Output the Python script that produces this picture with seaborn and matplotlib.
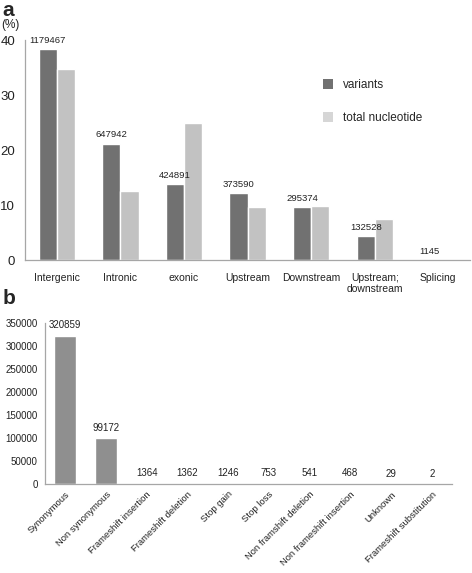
import matplotlib
matplotlib.use("Agg")
import matplotlib.pyplot as plt
import seaborn as sns
import pandas as pd
from matplotlib.patches import Patch

sns.set_theme(style="white")
plt.rcParams['font.family'] = ['Liberation Sans', 'DejaVu Sans']

# ---- data panel a ----
regions = ["Intergenic", "Intronic", "exonic", "Upstream", "Downstream",
           "Upstream;\ndownstream", "Splicing"]
variants_pct = [38.4, 21.2, 13.9, 12.2, 9.6, 4.4, 0.04]
nucleotide_pct = [34.7, 12.6, 25.0, 9.6, 9.8, 7.5, 0.1]
variant_counts = ["1179467", "647942", "424891", "373590", "295374", "132528", "1145"]
series_names = ["variants", "total nucleotide"]

# ---- data panel b ----
effects = ["Synonymous", "Non synonymous", "Frameshift insertion", "Frameshift deletion",
           "Stop gain", "Stop loss", "Non framshift deletion", "Non frameshift insertion",
           "Unknown", "Frameshift substitution"]
effect_counts = [320859, 99172, 1364, 1362, 1246, 753, 541, 468, 29, 2]
yticks_b = [0, 50000, 100000, 150000, 200000, 250000, 300000, 350000]
yticks_a = [0, 10, 20, 30, 40]

dark = "#717171"
light = "#c2c2c2"
spine_c = "#a6a6a6"

fig = plt.figure(figsize=(4.72, 5.73), dpi=100)

# ---------- panel a ----------
axa = fig.add_axes([0.053, 0.546, 0.943, 0.384])
dfa = pd.DataFrame({
    "region": regions * 2,
    "pct": variants_pct + nucleotide_pct,
    "series": [series_names[0]] * len(regions) + [series_names[1]] * len(regions),
})
sns.barplot(data=dfa, x="region", y="pct", hue="series", order=regions,
            hue_order=series_names, palette=[dark, light], width=0.57,
            saturation=1, legend=False, ax=axa)
axa.set_ylim(0, 40)
axa.set_yticks(yticks_a)
axa.set_xlabel("")
axa.set_ylabel("")
axa.tick_params(axis="y", length=0, pad=7, labelsize=9.5, colors="#222222")
axa.tick_params(axis="x", length=0, pad=9, labelsize=7.5, colors="#222222")
for s in ["top", "right"]:
    axa.spines[s].set_visible(False)
for s in ["left", "bottom"]:
    axa.spines[s].set_color(spine_c)
    axa.spines[s].set_linewidth(0.9)
axa.bar_label(axa.containers[0], labels=variant_counts, padding=3, fontsize=6.8,
              color="#222222")
handles = [Patch(facecolor=dark, edgecolor="none"),
           Patch(facecolor="#d6d6d6", edgecolor="none")]
axa.legend(handles, series_names, loc="upper left", bbox_to_anchor=(0.645, 0.87),
           frameon=False, fontsize=8.5, handlelength=0.9, handleheight=0.9,
           labelspacing=1.75, handletextpad=0.8)

fig.text(0.006, 0.998, "a", fontsize=15, fontweight="bold", va="top", ha="left")
fig.text(0.002, 0.966, "(%)", fontsize=8.5, va="top", ha="left", color="#222222")

# ---------- panel b ----------
axb = fig.add_axes([0.095, 0.155, 0.863, 0.282])
dfb = pd.DataFrame({"effect": effects, "count": effect_counts})
sns.barplot(data=dfb, x="effect", y="count", order=effects, color="#8f8f8f",
            saturation=1, width=0.55, ax=axb)
axb.set_ylim(0, 350000)
axb.set_yticks(yticks_b)
axb.set_yticklabels([str(v) for v in yticks_b])
axb.set_xlabel("")
axb.set_ylabel("")
axb.tick_params(axis="y", length=0, pad=5, labelsize=7, colors="#222222")
axb.tick_params(axis="x", length=0, pad=4, labelsize=6.8, colors="#222222")
for lab in axb.get_xticklabels():
    lab.set_rotation(45)
    lab.set_ha("right")
    lab.set_rotation_mode("anchor")
for s in ["top", "right"]:
    axb.spines[s].set_visible(False)
for s in ["left", "bottom"]:
    axb.spines[s].set_color(spine_c)
    axb.spines[s].set_linewidth(0.9)
axb.bar_label(axb.containers[0], labels=[str(v) for v in effect_counts], padding=4,
              fontsize=7, color="#222222")

fig.text(0.006, 0.495, "b", fontsize=15, fontweight="bold", va="top", ha="left")

fig.savefig("out.png", dpi=100, facecolor="white")
